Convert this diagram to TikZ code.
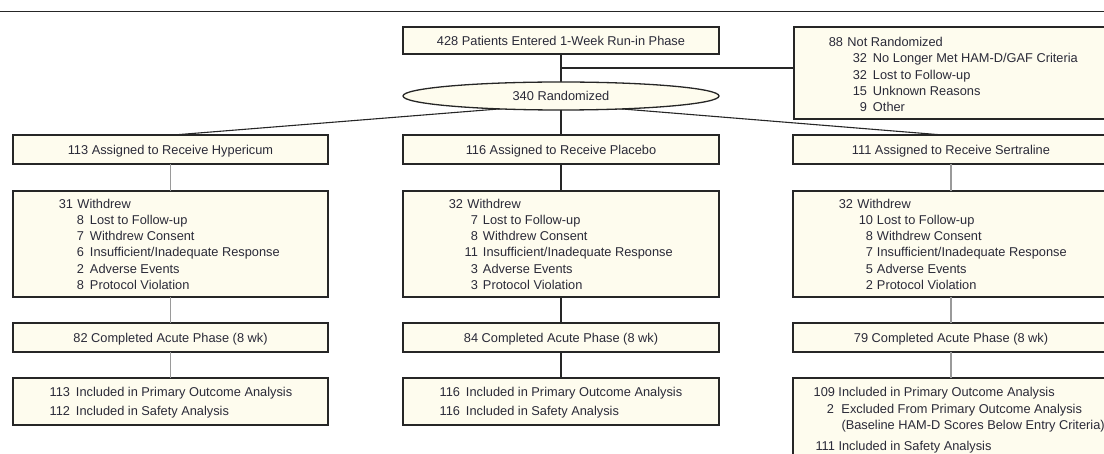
\documentclass[tikz,border=0pt]{standalone}
\usepackage{fontspec}
\setmainfont{Liberation Sans}
\usetikzlibrary{shapes.geometric,calc,backgrounds}
\definecolor{cream}{HTML}{FEFCEE}
\definecolor{ink}{HTML}{2A2A38}
\definecolor{edge}{HTML}{262626}
\definecolor{lite}{HTML}{9A9A9A}
\newcommand{\numln}[4]{\makebox[#1][r]{#2}\hspace{#3}#4}
\begin{document}
\begin{tikzpicture}[x=1pt,y=-1pt,
  box/.style={draw=edge, line width=1.3pt, fill=cream, inner sep=0pt, outer sep=0pt,
    text=ink, font=\fontsize{12.8}{16.2}\selectfont, text height=9.2pt, text depth=0pt},
  lst/.style={anchor=base west, inner sep=0pt, outer sep=0pt, text=ink,
    font=\fontsize{12.8}{16.2}\selectfont},
  link/.style={draw=edge, line width=1.1pt},
  slink/.style={draw=lite, line width=1.2pt},
  rule/.style={draw=edge, line width=1pt},
]
\useasboundingbox (0,0) rectangle (1104,454);
\clip (0,0) rectangle (1104,454);

\coordinate (ruleL) at (0,12);
\coordinate (ruleR) at (1104,12);
\draw[rule] (ruleL) -- (ruleR);

% top
\node[box, minimum width=316pt, minimum height=27pt] (entered) at (561,40.5) {428 Patients Entered 1-Week Run-in Phase};
\node[box, ellipse, minimum width=316pt, minimum height=28pt] (rand) at (561,96) {340 Randomized};
\node[box, minimum width=316pt, minimum height=92pt] (notrand) at (952,73) {};
\node[lst] (notrandtxt) at (823,46.7) {\begin{tabular}[t]{@{}l@{}}
\numln{20pt}{88}{4.5pt}{Not Randomized}\\
\numln{44pt}{32}{6pt}{No Longer Met HAM-D/GAF Criteria}\\
\numln{44pt}{32}{6pt}{Lost to Follow-up}\\
\numln{44pt}{15}{6pt}{Unknown Reasons}\\
\numln{44pt}{9}{6pt}{Other}
\end{tabular}};

% assigned row
\node[box, minimum width=315pt, minimum height=29pt] (hyp) at (170.5,149.5) {113 Assigned to Receive Hypericum};
\node[box, minimum width=316pt, minimum height=29pt] (plc) at (561,149.5) {116 Assigned to Receive Placebo};
\node[box, minimum width=316pt, minimum height=29pt] (ser) at (951,149.5) {111 Assigned to Receive Sertraline};

% withdrew row
\node[box, minimum width=315pt, minimum height=106pt] (hypw) at (170.5,244) {};
\node[box, minimum width=316pt, minimum height=106pt] (plcw) at (561,244) {};
\node[box, minimum width=316pt, minimum height=106pt] (serw) at (951,244) {};
\node[lst] (hypwt) at (53,208.3) {\begin{tabular}[t]{@{}l@{}}
\numln{20pt}{31}{4.5pt}{Withdrew}\\
\numln{31pt}{8}{6pt}{Lost to Follow-up}\\
\numln{31pt}{7}{6pt}{Withdrew Consent}\\
\numln{31pt}{6}{6pt}{Insufficient/Inadequate Response}\\
\numln{31pt}{2}{6pt}{Adverse Events}\\
\numln{31pt}{8}{6pt}{Protocol Violation}
\end{tabular}};
\node[lst] (plcwt) at (443,208.3) {\begin{tabular}[t]{@{}l@{}}
\numln{20pt}{32}{4.5pt}{Withdrew}\\
\numln{35pt}{7}{5pt}{Lost to Follow-up}\\
\numln{35pt}{8}{5pt}{Withdrew Consent}\\
\numln{35pt}{11}{5pt}{Insufficient/Inadequate Response}\\
\numln{35pt}{3}{5pt}{Adverse Events}\\
\numln{35pt}{3}{5pt}{Protocol Violation}
\end{tabular}};
\node[lst] (serwt) at (833,208.3) {\begin{tabular}[t]{@{}l@{}}
\numln{20pt}{32}{4.5pt}{Withdrew}\\
\numln{40pt}{10}{4pt}{Lost to Follow-up}\\
\numln{40pt}{8}{4pt}{Withdrew Consent}\\
\numln{40pt}{7}{4pt}{Insufficient/Inadequate Response}\\
\numln{40pt}{5}{4pt}{Adverse Events}\\
\numln{40pt}{2}{4pt}{Protocol Violation}
\end{tabular}};

% completed row
\node[box, minimum width=315pt, minimum height=29pt] (hypc) at (170.5,337.5) {82 Completed Acute Phase (8 wk)};
\node[box, minimum width=316pt, minimum height=29pt] (plcc) at (561,337.5) {84 Completed Acute Phase (8 wk)};
\node[box, minimum width=316pt, minimum height=29pt] (serc) at (951,337.5) {79 Completed Acute Phase (8 wk)};

% included row
\node[box, minimum width=315pt, minimum height=47pt] (hypi) at (170.5,401.5) {};
\node[box, minimum width=316pt, minimum height=47pt] (plci) at (561,401.5) {};
\node[box, minimum width=316pt, minimum height=90pt] (seri) at (951,423) {};
\node[lst] (hypit) at (50,396.8) {\begin{tabular}[t]{@{}l@{}}
\numln{20pt}{113}{6pt}{Included in Primary Outcome Analysis}\\[3pt]
\numln{20pt}{112}{6pt}{Included in Safety Analysis}
\end{tabular}};
\node[lst] (plcit) at (440,396.8) {\begin{tabular}[t]{@{}l@{}}
\numln{20pt}{116}{6pt}{Included in Primary Outcome Analysis}\\[3pt]
\numln{20pt}{116}{6pt}{Included in Safety Analysis}
\end{tabular}};
\node[lst] (serit) at (813,397) {\begin{tabular}[t]{@{}l@{}}
\numln{22pt}{109}{3.5pt}{Included in Primary Outcome Analysis}\\
\numln{21pt}{2}{7.5pt}{Excluded From Primary Outcome Analysis}\\
\numln{21pt}{}{7.5pt}{(Baseline HAM-D Scores Below Entry Criteria)}\\[4.5pt]
\numln{22pt}{111}{3.5pt}{Included in Safety Analysis}
\end{tabular}};

% connectors
\coordinate (branch) at (561,68);
\coordinate (split) at (561,104);
\begin{scope}[on background layer]
\draw[link] (entered.south) -- (rand.north);
\draw[link] (branch) -- (branch -| notrand.west);
\draw[link] (split) -- ($(hyp.north)+(3,0)$);
\draw[link] (split) -- ($(ser.north)+(-8,0)$);
\end{scope}
\draw[link] (rand.south) -- (plc.north);
\draw[slink] (hyp.south) -- (hypw.north);
\draw[slink] (hypw.south) -- (hypc.north);
\draw[slink] (hypc.south) -- (hypi.north);
\draw[link] (plc.south) -- (plcw.north);
\draw[link] (plcw.south) -- (plcc.north);
\draw[link] (plcc.south) -- (plci.north);
\draw[slink] (ser.south) -- (serw.north);
\draw[slink] (serw.south) -- (serc.north);
\draw[slink] (serc.south) -- (seri.north);
\end{tikzpicture}
\end{document}
